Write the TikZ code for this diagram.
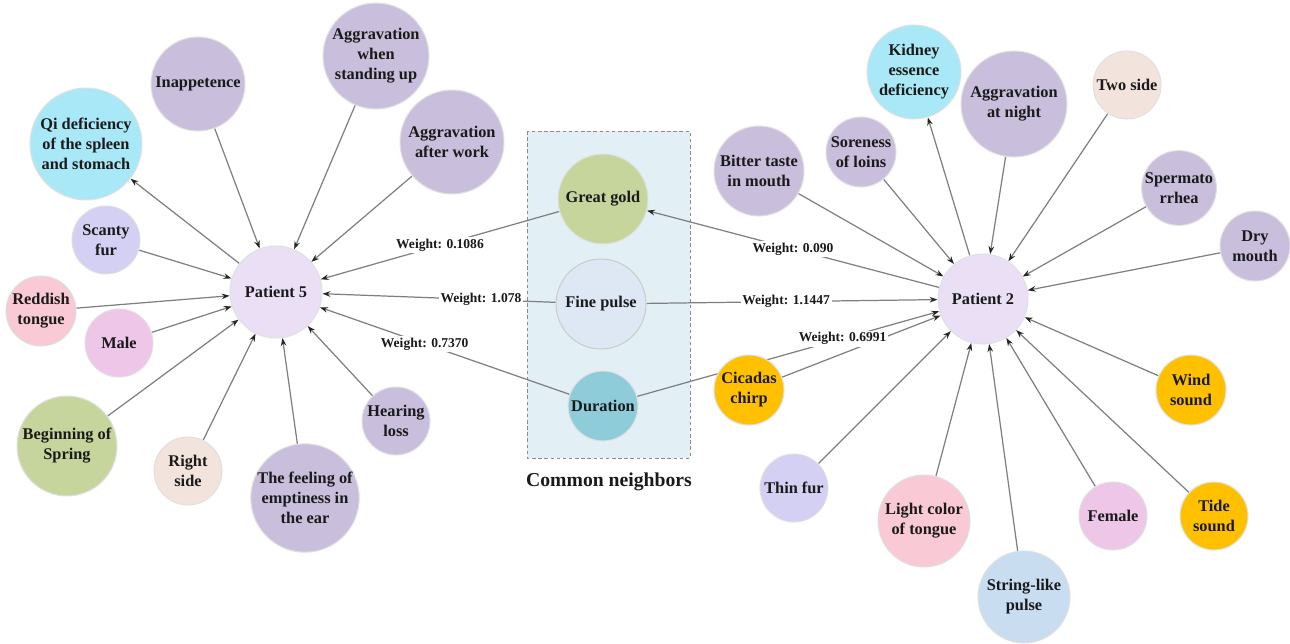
\documentclass[tikz,border=0pt]{standalone}
\usepackage{fontspec}
\setmainfont{Liberation Serif}
\usetikzlibrary{arrows.meta}
\pgfdeclarelayer{background}
\pgfdeclarelayer{edges}
\pgfsetlayers{background,edges,main}

\definecolor{cpatient}{HTML}{EADFF5}
\definecolor{cpurple}{HTML}{C9BEDB}
\definecolor{ccyan}{HTML}{A9E8F6}
\definecolor{clav}{HTML}{D3D0F3}
\definecolor{cpink}{HTML}{F9C9D5}
\definecolor{cmag}{HTML}{EEC6E8}
\definecolor{cgreen}{HTML}{C6D59C}
\definecolor{cbeige}{HTML}{F2E4DC}
\definecolor{cblue}{HTML}{C9DDF0}
\definecolor{cyellow}{HTML}{FFC000}
\definecolor{cdur}{HTML}{8FCCDA}
\definecolor{cfine}{HTML}{DEE8F4}
\definecolor{cbox}{HTML}{E2F0F6}
\definecolor{cedge}{HTML}{7F7F7F}
\definecolor{ctext}{HTML}{1A1A1A}

\tikzset{
  bub/.style={circle, inner sep=0pt, minimum size={#1*0.04cm}, align=center,
    draw=black!12, line width=0.6pt, text=ctext,
    font=\fontsize{9.3}{11.4}\selectfont\bfseries},
  arr/.style={draw=cedge, line width=0.7pt,
    -{Stealth[length=4.5pt,width=3.2pt,color=black!85]}},
  plain/.style={draw=cedge, line width=0.7pt},
  wlab/.style={fill=white, inner sep=1pt, text=ctext,
    font=\fontsize{7.7}{9}\selectfont\bfseries}
}

\begin{document}
\begin{tikzpicture}[x=0.02cm, y=-0.02cm]
\useasboundingbox (0,0) rectangle (1290,643);

% ---------- Patient 5 and its neighbours ----------
\node[bub=46, fill=cpatient] (p5) at (276,292) {Patient 5};
\node[bub=47, fill=cpurple] (inapp) at (198,84) {Inappetence};
\node[bub=53, fill=cpurple] (standup) at (376,56) {Aggravation\\when\\standing up};
\node[bub=52, fill=cpurple] (afterwork) at (452,142) {Aggravation\\after work};
\node[bub=56, fill=ccyan] (qi) at (86,144) {Qi deficiency\\of the spleen\\and stomach};
\node[bub=34, fill=clav] (scanty) at (106,240) {Scanty\\fur};
\node[bub=35, fill=cpink] (reddish) at (41,311) {Reddish\\tongue};
\node[bub=34, fill=cmag] (male) at (119,343) {Male};
\node[bub=50, fill=cgreen] (spring) at (67,446) {Beginning of\\Spring};
\node[bub=34, fill=cbeige] (rightside) at (188,471) {Right\\side};
\node[bub=53, fill=cpurple] (emptiness) at (305,498) {The feeling of\\emptiness in\\the ear};
\node[bub=34, fill=cpurple] (hearing) at (396,421) {Hearing\\loss};

% ---------- common neighbours ----------
\node[bub=45, fill=cgreen] (gold) at (603,199) {Great gold};
\node[bub=45, fill=cfine, draw=black!20] (fine) at (601,304) {Fine pulse};
\node[bub=35, fill=cdur] (dur) at (603,406) {Duration};
\node[text=ctext, font=\fontsize{11.2}{13}\selectfont\bfseries] (common) at (609,482) {Common neighbors};

% ---------- Patient 2 and its neighbours ----------
\node[bub=45, fill=cpatient] (p2) at (983,299) {Patient 2};
\node[bub=47, fill=ccyan] (kidney) at (914,72) {Kidney\\essence\\deficiency};
\node[bub=53, fill=cpurple] (night) at (1014,104) {Aggravation\\at night};
\node[bub=34, fill=cbeige] (twoside) at (1127,85) {Two side};
\node[bub=35, fill=cpurple] (soreness) at (861,152) {Soreness\\of loins};
\node[bub=45, fill=cpurple] (bitter) at (759,171) {Bitter taste\\in mouth};
\node[bub=37, fill=cpurple] (sperm) at (1179,188) {Spermato\\rrhea};
\node[bub=35, fill=cpurple] (dry) at (1255,246) {Dry\\mouth};
\node[bub=35, fill=cyellow] (cicadas) at (749,390) {Cicadas\\chirp};
\node[bub=35, fill=cyellow] (wind) at (1191,390) {Wind\\sound};
\node[bub=34, fill=clav] (thinfur) at (794,488) {Thin fur};
\node[bub=46, fill=cpink] (lightcolor) at (924,521) {Light color\\of tongue};
\node[bub=46, fill=cblue] (stringlike) at (1024,597) {String-like\\pulse};
\node[bub=34, fill=cmag] (female) at (1113,516) {Female};
\node[bub=34, fill=cyellow] (tide) at (1214,516) {Tide\\sound};

% dashed panel holding the common neighbours
\begin{pgfonlayer}{background}
  \fill[cbox] (527,131) rectangle (690,458);
  \draw[black!45, line width=0.5pt, dash pattern=on 2pt off 1.5pt] (527,131) rectangle (690,458);
\end{pgfonlayer}

% ---------- connectors ----------
\begin{pgfonlayer}{edges}
  % Patient 5
  \draw[arr] (p5) -- (qi);
  \foreach \s in {inapp,standup,afterwork,scanty,reddish,male,spring,rightside,emptiness,hearing}
    \draw[arr] (\s) -- (p5);
  \draw[arr] (gold) -- node[wlab, pos=0.5] (w1) {Weight: 0.1086} (p5);
  \draw[arr] (fine) -- node[wlab, pos=0.32] (w2) {Weight: 1.078} (p5);
  \draw[arr] (dur) -- node[wlab, pos=0.58] (w3) {Weight: 0.7370} (p5);
  % Patient 2
  \draw[arr] (p2) -- (kidney);
  \foreach \s in {bitter,soreness,night,twoside,sperm,dry,cicadas,wind,thinfur,lightcolor,stringlike,female,tide}
    \draw[arr] (\s) -- (p2);
  \draw[arr] (p2) -- node[wlab, pos=0.5] (w4) {Weight: 0.090} (gold);
  \draw[arr] (fine) -- node[wlab, pos=0.48] (w5) {Weight: 1.1447} (p2);
  \draw[arr] (dur) -- node[wlab, pos=0.68] (w6) {Weight: 0.6991} (p2);
\end{pgfonlayer}
\end{tikzpicture}
\end{document}
